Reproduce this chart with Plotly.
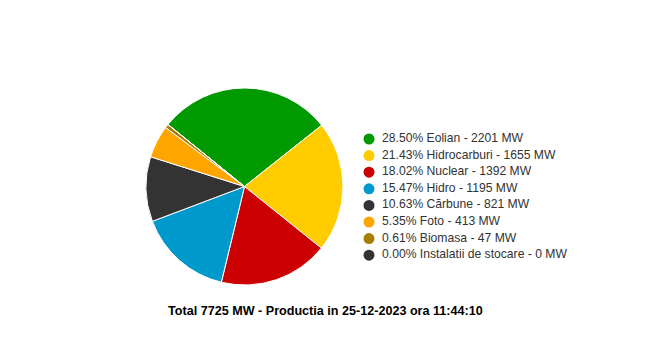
import plotly.graph_objects as go

labels = ["Eolian", "Hidrocarburi", "Nuclear", "Hidro", "Cărbune", "Foto", "Biomasa", "Instalatii de stocare"]
values_mw = [2201, 1655, 1392, 1195, 821, 413, 47, 0]
percents = [28.50, 21.43, 18.02, 15.47, 10.63, 5.35, 0.61, 0.00]
colors = ["#009900", "#ffcc00", "#cc0000", "#0099cc", "#333333", "#ffa500", "#a67f00", "#333333"]
title_text = "Total 7725 MW - Productia in 25-12-2023 ora 11:44:10"

W, H = 657, 363
cx, cy, r = 244.5, 186.5, 98.5

# legend layout (pixel space of the hidden axes)
leg_x, leg_y0, leg_dy = 369, 139, 16.6
legend_rows = list(range(len(labels)))
legend_text = [f"{p:.2f}% {lab} - {v} MW" for lab, v, p in zip(labels, values_mw, percents)]

fig = go.Figure()
fig.add_trace(go.Pie(
    labels=labels, values=values_mw, sort=False, direction="clockwise",
    rotation=-51, marker=dict(colors=colors, line=dict(color="#ffffff", width=1)),
    textinfo="none", hoverinfo="skip", showlegend=False,
    domain=dict(x=[(cx - r) / W, (cx + r) / W], y=[1 - (cy + r) / H, 1 - (cy - r) / H]),
))
fig.add_trace(go.Scatter(
    x=[leg_x] * len(labels), y=[leg_y0 + i * leg_dy for i in legend_rows],
    mode="markers", marker=dict(symbol="circle", size=11, color=colors),
    hoverinfo="skip", showlegend=False,
))
fig.add_trace(go.Scatter(
    x=[leg_x + 13] * len(labels), y=[leg_y0 + i * leg_dy for i in legend_rows],
    mode="text", text=legend_text, textposition="middle right",
    textfont=dict(size=12.15, color="#333333", family="Liberation Sans, Arial"),
    hoverinfo="skip", showlegend=False,
))

fig.update_layout(
    width=W, height=H, margin=dict(l=0, r=0, t=0, b=0),
    paper_bgcolor="#ffffff", plot_bgcolor="rgba(0,0,0,0)",
    xaxis=dict(visible=False, range=[0, W], domain=[0, 1], fixedrange=True),
    yaxis=dict(visible=False, range=[H, 0], domain=[0, 1], fixedrange=True),
    font=dict(family="Liberation Sans, Arial", color="#333333"),
    showlegend=False,
    annotations=[dict(text=f"<b>{title_text}</b>", x=325 / W, y=1 - 319.5 / H,
                      xref="paper", yref="paper", showarrow=False,
                      font=dict(size=12.6, color="#000000"))],
)
fig.write_html("out.html", config={"displayModeBar": False},
               post_script="document.body.style.margin='0';document.body.style.overflow='hidden';")
